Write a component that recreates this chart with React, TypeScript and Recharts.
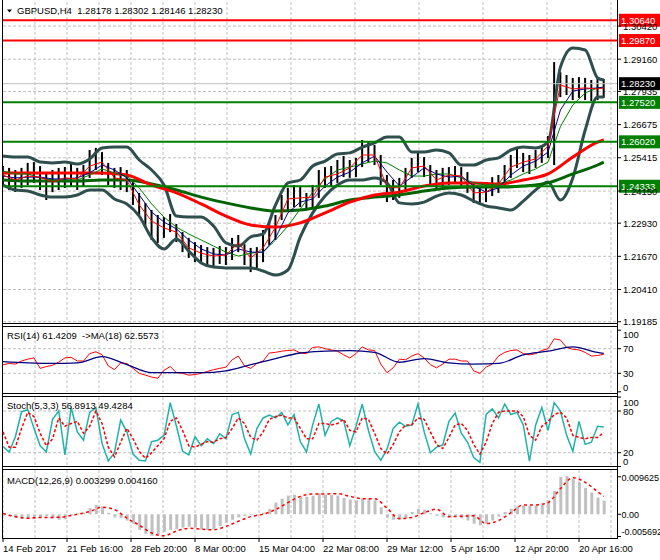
import React from 'react';
import { ComposedChart, Bar, Line, XAxis, YAxis, CartesianGrid, ReferenceLine } from 'recharts';

const FONT = "'Liberation Sans', Arial, Helvetica, sans-serif";
const FS = 9.5;

// ---------- price bars (one sample = 3 H4 bars) ----------
const barHigh = [
  1.2510, 1.2503, 1.2495, 1.2503, 1.2522, 1.2525, 1.2510, 1.2484, 1.2495, 1.2503,
  1.2506, 1.2522, 1.2503, 1.2514, 1.2571, 1.2579, 1.2563, 1.2522, 1.2503, 1.2506,
  1.2495, 1.2457, 1.2408, 1.2370, 1.2343, 1.2324, 1.2316, 1.2328, 1.2290, 1.2259,
  1.2237, 1.2221, 1.2210, 1.2202, 1.2199, 1.2206, 1.2202, 1.2237, 1.2248, 1.2213,
  1.2199, 1.2202, 1.2267, 1.2297, 1.2324, 1.2400, 1.2427, 1.2438, 1.2430, 1.2408,
  1.2438, 1.2495, 1.2506, 1.2510, 1.2533, 1.2548, 1.2533, 1.2541, 1.2609, 1.2601,
  1.2590, 1.2552, 1.2476, 1.2457, 1.2465, 1.2503, 1.2541, 1.2563, 1.2544, 1.2514,
  1.2495, 1.2503, 1.2506, 1.2510, 1.2506, 1.2487, 1.2446, 1.2430, 1.2446, 1.2468,
  1.2476, 1.2514, 1.2552, 1.2579, 1.2560, 1.2552, 1.2571, 1.2590, 1.2624, 1.2905,
  1.2867, 1.2856, 1.2845, 1.2848, 1.2845, 1.2837, 1.2845, 1.2841,
];
const barLow = [
  1.2430, 1.2419, 1.2411, 1.2427, 1.2438, 1.2446, 1.2419, 1.2381, 1.2411, 1.2419,
  1.2427, 1.2434, 1.2419, 1.2434, 1.2465, 1.2495, 1.2476, 1.2438, 1.2427, 1.2419,
  1.2411, 1.2362, 1.2324, 1.2275, 1.2229, 1.2218, 1.2237, 1.2259, 1.2221, 1.2183,
  1.2161, 1.2145, 1.2138, 1.2134, 1.2126, 1.2138, 1.2134, 1.2153, 1.2183, 1.2134,
  1.2107, 1.2115, 1.2145, 1.2210, 1.2229, 1.2305, 1.2343, 1.2354, 1.2354, 1.2343,
  1.2351, 1.2389, 1.2427, 1.2434, 1.2446, 1.2468, 1.2465, 1.2468, 1.2506, 1.2525,
  1.2514, 1.2438, 1.2373, 1.2381, 1.2389, 1.2419, 1.2465, 1.2487, 1.2468, 1.2438,
  1.2419, 1.2427, 1.2438, 1.2442, 1.2434, 1.2408, 1.2370, 1.2362, 1.2373, 1.2396,
  1.2408, 1.2434, 1.2465, 1.2503, 1.2487, 1.2480, 1.2503, 1.2522, 1.2541, 1.2514,
  1.2772, 1.2780, 1.2761, 1.2769, 1.2761, 1.2757, 1.2761, 1.2769,
];

// ---------- moving averages / bands (every 2nd sample, last = final bar) ----------
const maFast = [
  1.2476, 1.2457, 1.2472, 1.2468, 1.2449, 1.2465, 1.2461, 1.2510, 1.2525, 1.2465,
  1.2457, 1.2362, 1.2301, 1.2275, 1.2259, 1.2199, 1.2179, 1.2168, 1.2172, 1.2218,
  1.2161, 1.2199, 1.2278, 1.2385, 1.2389, 1.2392, 1.2468, 1.2480, 1.2503, 1.2552,
  1.2552, 1.2430, 1.2427, 1.2503, 1.2510, 1.2457, 1.2476, 1.2472, 1.2408, 1.2411,
  1.2442, 1.2506, 1.2525, 1.2537, 1.2586, 1.2818, 1.2803, 1.2807, 1.2803, 1.2807,
];
const maMid = [
  1.2472, 1.2465, 1.2468, 1.2468, 1.2461, 1.2461, 1.2465, 1.2484, 1.2514, 1.2495,
  1.2465, 1.2400, 1.2335, 1.2297, 1.2271, 1.2229, 1.2195, 1.2176, 1.2172, 1.2195,
  1.2183, 1.2183, 1.2237, 1.2332, 1.2373, 1.2385, 1.2434, 1.2468, 1.2487, 1.2522,
  1.2548, 1.2487, 1.2434, 1.2468, 1.2503, 1.2480, 1.2468, 1.2472, 1.2434, 1.2411,
  1.2427, 1.2476, 1.2510, 1.2529, 1.2563, 1.2723, 1.2795, 1.2803, 1.2807, 1.2810,
];
const maSlow = [
  1.2491, 1.2480, 1.2480, 1.2465, 1.2457, 1.2457, 1.2457, 1.2476, 1.2499, 1.2484,
  1.2472, 1.2427, 1.2366, 1.2316, 1.2278, 1.2252, 1.2229, 1.2206, 1.2183, 1.2168,
  1.2179, 1.2183, 1.2229, 1.2282, 1.2347, 1.2411, 1.2461, 1.2495, 1.2506, 1.2518,
  1.2529, 1.2522, 1.2495, 1.2472, 1.2472, 1.2480, 1.2480, 1.2465, 1.2446, 1.2438,
  1.2442, 1.2457, 1.2480, 1.2499, 1.2525, 1.2660, 1.2742, 1.2788, 1.2807, 1.2807,
];
const bbUpper = [
  1.2548, 1.2544, 1.2544, 1.2525, 1.2522, 1.2525, 1.2518, 1.2537, 1.2579, 1.2582,
  1.2582, 1.2533, 1.2495, 1.2438, 1.2320, 1.2316, 1.2316, 1.2282, 1.2218, 1.2206,
  1.2241, 1.2252, 1.2362, 1.2446, 1.2457, 1.2510, 1.2529, 1.2556, 1.2560, 1.2582,
  1.2598, 1.2620, 1.2620, 1.2563, 1.2563, 1.2571, 1.2560, 1.2514, 1.2514, 1.2533,
  1.2541, 1.2571, 1.2582, 1.2579, 1.2601, 1.2886, 1.2959, 1.2951, 1.2845, 1.2837,
];
const bbLower = [
  1.2438, 1.2419, 1.2415, 1.2400, 1.2392, 1.2392, 1.2400, 1.2419, 1.2419, 1.2385,
  1.2366, 1.2320, 1.2237, 1.2195, 1.2233, 1.2187, 1.2142, 1.2126, 1.2123, 1.2123,
  1.2123, 1.2111, 1.2096, 1.2115, 1.2241, 1.2332, 1.2396, 1.2438, 1.2457, 1.2457,
  1.2465, 1.2446, 1.2370, 1.2366, 1.2373, 1.2396, 1.2408, 1.2400, 1.2377, 1.2358,
  1.2351, 1.2343, 1.2377, 1.2419, 1.2449, 1.2381, 1.2465, 1.2647, 1.2772, 1.2772,
];
// every 4th sample, last = final bar
const ma100 = [
  1.2484, 1.2484, 1.2484, 1.2484, 1.2484, 1.2476, 1.2438, 1.2408, 1.2366, 1.2320,
  1.2286, 1.2278, 1.2294, 1.2332, 1.2373, 1.2400, 1.2411, 1.2434, 1.2446, 1.2446,
  1.2442, 1.2457, 1.2480, 1.2544, 1.2601, 1.2609,
];
const ma200 = [
  1.2457, 1.2453, 1.2453, 1.2453, 1.2457, 1.2457, 1.2442, 1.2419, 1.2392, 1.2370,
  1.2351, 1.2339, 1.2343, 1.2358, 1.2381, 1.2392, 1.2400, 1.2415, 1.2427, 1.2430,
  1.2430, 1.2434, 1.2446, 1.2480, 1.2514, 1.2525,
];

// ---------- RSI ----------
const rsi = [
  44, 46, 45, 50, 53, 55, 38, 41, 43, 48,
  55, 56, 50, 50, 62, 65, 60, 42, 36, 47,
  46, 38, 30, 27, 24, 22, 35, 41, 31, 30,
  27, 28, 30, 33, 36, 38, 40, 52, 58, 42,
  38, 46, 50, 63, 64, 66, 67, 68, 63, 62,
  72, 73, 70, 68, 66, 60, 55, 62, 73, 68,
  67, 45, 31, 39, 53, 52, 58, 62, 55, 44,
  39, 45, 53, 53, 50, 50, 34, 30, 40, 45,
  58, 64, 67, 68, 62, 60, 62, 67, 70, 86,
  84, 72, 69, 68, 64, 58, 59, 61,
];
const rsiMa = [49, 47, 46, 47, 57, 44, 31, 31, 31, 34, 44, 54, 63, 66, 67, 64, 48, 54, 47, 45, 46, 60, 66, 73, 64, 62.5];

// ---------- Stochastic ----------
const stochMain = [
  29, 21, 43, 79, 82, 55, 30, 21, 68, 80,
  17, 85, 50, 38, 78, 85, 33, 8, 20, 67,
  50, 18, 9, 8, 36, 38, 45, 92, 58, 22,
  17, 43, 30, 40, 33, 47, 40, 75, 78, 40,
  18, 55, 70, 74, 70, 78, 60, 75, 36, 21,
  60, 90, 45, 65, 70, 66, 30, 58, 90, 52,
  22, 9, 25, 55, 64, 58, 60, 90, 50, 20,
  28, 31, 65, 77, 48, 35, 13, 6, 75, 83,
  70, 90, 75, 78, 60, 8, 60, 85, 52, 92,
  80, 45, 22, 65, 32, 35, 58, 57,
];
const stochSignal = [
  50, 28, 28, 55, 78, 72, 48, 30, 40, 70,
  58, 62, 65, 48, 58, 80, 62, 28, 14, 35,
  55, 40, 22, 12, 20, 30, 40, 65, 70, 52,
  30, 28, 32, 36, 35, 40, 42, 55, 70, 62,
  42, 38, 50, 68, 72, 74, 70, 70, 55, 40,
  40, 62, 62, 60, 62, 68, 52, 50, 70, 68,
  48, 26, 18, 32, 50, 60, 60, 70, 68, 50,
  32, 26, 42, 60, 62, 52, 32, 18, 35, 62,
  78, 80, 80, 80, 72, 45, 38, 58, 65, 75,
  78, 70, 45, 42, 40, 42, 42, 49,
];

// ---------- MACD ----------
const macdHist = [
  -0.0003, -0.0006, -0.0009, -0.0011, -0.0012, -0.0012, -0.0008, -0.0005, -0.0010, -0.0014,
  -0.0013, -0.0002, 0.0002, 0.0004, 0.0016, 0.0024, 0.0020, 0.0004, -0.0008, -0.0010,
  -0.0016, -0.0024, -0.0040, -0.0050, -0.0055, -0.0052, -0.0045, -0.0040, -0.0038, -0.0034,
  -0.0032, -0.0034, -0.0038, -0.0040, -0.0038, -0.0030, -0.0022, -0.0014, -0.0008, -0.0004,
  -0.0002, -0.0003, 0.0004, 0.0014, 0.0030, 0.0040, 0.0048, 0.0050, 0.0047, 0.0045,
  0.0048, 0.0054, 0.0050, 0.0050, 0.0048, 0.0042, 0.0038, 0.0036, 0.0040, 0.0040,
  0.0036, 0.0018, -0.0008, -0.0014, -0.0014, -0.0010, 0.0006, 0.0014, 0.0012, 0.0003,
  -0.0004, -0.0008, -0.0006, -0.0004, -0.0010, -0.0016, -0.0024, -0.0028, -0.0024, -0.0016,
  -0.0006, 0.0006, 0.0014, 0.0020, 0.0022, 0.0022, 0.0022, 0.0024, 0.0036, 0.0060,
  0.0096, 0.0098, 0.0090, 0.0082, 0.0068, 0.0056, 0.0043, 0.0035,
];
const macdSignal = [
  0.0002, -0.0006, -0.0010, -0.0008, -0.0008, -0.0006, 0.0000, 0.0007, 0.0018, 0.0012,
  -0.0010, -0.0028, -0.0048, -0.0055, -0.0043, -0.0036, -0.0038, -0.0040, -0.0031, -0.0018,
  -0.0006, 0.0000, 0.0012, 0.0030, 0.0046, 0.0052, 0.0052, 0.0053, 0.0046, 0.0040,
  0.0040, 0.0016, -0.0011, -0.0008, 0.0004, 0.0013, -0.0006, -0.0005, -0.0004, -0.0024,
  -0.0016, 0.0004, 0.0024, 0.0024, 0.0030, 0.0066, 0.0094, 0.0082, 0.0058, 0.0046,
];

// ---------- axes, labels, levels ----------
const priceTicks = [1.3042, 1.2916, 1.27935, 1.26675, 1.25415, 1.2415, 1.2293, 1.2167, 1.2041, 1.19185];
const rsiTicks = [0, 30, 70, 100];
const stochTicks = [0, 20, 80, 100];
const macdTicks = [0.009625, 0, -0.005692];
const macdTickText = ['0.009625', '0.00', '-0.005692'];
const timeLabels = ['14 Feb 2017', '21 Feb 16:00', '28 Feb 20:00', '8 Mar 00:00', '15 Mar 04:00', '22 Mar 08:00', '29 Mar 12:00', '5 Apr 16:00', '12 Apr 20:00', '20 Apr 16:00'];
const labelBars = [0, 31, 62, 93, 124, 155, 186, 217, 248, 279];
const gridBars = Array.from({ length: 20 }, (_, j) => j * 15.5);
const levelValues = [1.3064, 1.2987, 1.2823, 1.2752, 1.2602, 1.24333];
const levelText = ['1.30640', '1.29870', '1.28230', '1.27520', '1.26020', '1.24333'];
const levelColors = ['#FF0000', '#FF0000', '#C0C0C0', '#008000', '#008000', '#008000'];
const levelBoxes = ['#FF0000', '#FF0000', '#000000', '#008000', '#008000', '#008000'];
const headerText = 'GBPUSD,H4  1.28178 1.28302 1.28146 1.28230';
const rsiTitle = 'RSI(14) 61.4209  ->MA(18) 62.5573';
const stochTitle = 'Stoch(5,3,3) 56.8913 49.4284';
const macdTitle = 'MACD(12,26,9) 0.003299 0.004160';

const BARS_PER_SAMPLE = 3;
const X_MAX = 297.4;
const LAST = barHigh.length - 1;
const pick = (arr: number[], step: number, k: number): number | null => {
  if (k === LAST) return arr[arr.length - 1];
  return k % step === 0 ? arr[k / step] : null;
};

const rows = barHigh.map((h, k) => ({
  bar: k * BARS_PER_SAMPLE,
  range: [barLow[k], h],
  fast: pick(maFast, 2, k),
  mid: pick(maMid, 2, k),
  slow: pick(maSlow, 2, k),
  bbU: pick(bbUpper, 2, k),
  bbL: pick(bbLower, 2, k),
  m100: pick(ma100, 4, k),
  m200: pick(ma200, 4, k),
  rsi: rsi[k],
  rsiMa: pick(rsiMa, 4, k),
  st: stochMain[k],
  sig: stochSignal[k],
  hist: macdHist[k],
  msig: pick(macdSignal, 2, k),
}));

const txt = { fontSize: FS, fontFamily: FONT, fill: '#000' } as const;

const makeTick = (fmt: (v: number) => string, shift: (v: number) => number = () => 0, size = FS) => (p: any) => (
  <text x={p.x} y={p.y} dy={3.5 + shift(p.payload.value)} textAnchor="start" fontSize={size} fontFamily={FONT} fill="#000">
    {fmt(p.payload.value)}
  </text>
);
const priceTick = makeTick((v) => v.toFixed(5));
const rsiTick = makeTick((v) => String(v), (v) => (v === 100 ? 4 : v === 0 ? -4 : 0));
const stochTick = makeTick((v) => String(v), (v) => (v === 100 ? 5 : v === 0 ? -5.5 : 0));
const macdTick = makeTick((v) => macdTickText[macdTicks.indexOf(v)] ?? '', (v) => (v < 0 ? -4.5 : 0.5), 9);

const timeTick = (p: any) => {
  const idx = labelBars.indexOf(p.payload.value);
  if (idx < 0) return <g />;
  return (
    <g>
      <line x1={p.x} x2={p.x} y1={p.y} y2={p.y + 4} stroke="#000" />
      <text x={p.x} y={p.y + 13.5} textAnchor="start" {...txt}>{timeLabels[idx]}</text>
    </g>
  );
};

const levelLabel = (text: string, bg: string) => (props: any) => {
  const vb = props.viewBox || {};
  const x = (vb.x ?? 0) + (vb.width ?? 0) + 2;
  const y = vb.y ?? 0;
  return (
    <g>
      <rect x={x} y={y - 6.5} width={42} height={13} fill={bg} />
      <text x={x + 2} y={y + 3.5} fontSize={FS} fontFamily={FONT} fill="#fff">{text}</text>
    </g>
  );
};

const gridProps = { stroke: '#C0C0C0', strokeDasharray: '3 2', verticalValues: gridBars } as any;
const hiddenX = (
  <XAxis dataKey="bar" type="number" domain={[0, X_MAX]} ticks={gridBars} hide allowDataOverflow />
);
const W = 660;

export default function App() {
  return (
    <div style={{ position: 'absolute', left: 0, top: 0, width: W, height: 560, background: '#fff', overflow: 'hidden' }}>
      {/* main price panel */}
      <div style={{ position: 'absolute', left: 0, top: 0 }}>
        <ComposedChart width={W} height={326} data={rows} margin={{ top: 2, right: 0, bottom: 2, left: 3 }}>
          <CartesianGrid {...gridProps} horizontalValues={priceTicks} />
          {hiddenX}
          <YAxis orientation="right" width={43} domain={[1.19098, 1.31334]} ticks={priceTicks} interval={0}
            tick={priceTick} tickSize={4} tickMargin={2} axisLine={false} tickLine={{ stroke: '#000' }} allowDataOverflow />
          <Bar dataKey="range" fill="#000" barSize={2} isAnimationActive={false} />
          <Line dataKey="bbU" stroke="#2F4F4F" strokeWidth={3} dot={false} connectNulls type="monotone" isAnimationActive={false} />
          <Line dataKey="bbL" stroke="#2F4F4F" strokeWidth={3} dot={false} connectNulls type="monotone" isAnimationActive={false} />
          <Line dataKey="m200" stroke="#006400" strokeWidth={3} dot={false} connectNulls type="monotone" isAnimationActive={false} />
          <Line dataKey="m100" stroke="#FF0000" strokeWidth={3} dot={false} connectNulls type="monotone" isAnimationActive={false} />
          <Line dataKey="slow" stroke="#008000" strokeWidth={1} dot={false} connectNulls type="linear" isAnimationActive={false} />
          <Line dataKey="mid" stroke="#00008B" strokeWidth={1} dot={false} connectNulls type="linear" isAnimationActive={false} />
          <Line dataKey="fast" stroke="#FF0000" strokeWidth={1} dot={false} connectNulls type="linear" isAnimationActive={false} />
          {levelValues.map((v, i) => (
            <ReferenceLine key={v} y={v} stroke={levelColors[i]} strokeWidth={levelColors[i] === '#C0C0C0' ? 1 : 2}
              label={levelLabel(levelText[i], levelBoxes[i])} />
          ))}
        </ComposedChart>
      </div>

      {/* RSI panel */}
      <div style={{ position: 'absolute', left: 0, top: 326 }}>
        <ComposedChart width={W} height={68} data={rows} margin={{ top: 4.2, right: 0, bottom: 2.2, left: 3 }}>
          <CartesianGrid {...gridProps} horizontalValues={[30, 70]} />
          {hiddenX}
          <YAxis orientation="right" width={43} domain={[0, 100]} ticks={rsiTicks} interval={0}
            tick={rsiTick} tickSize={4} tickMargin={2} axisLine={false} tickLine={{ stroke: '#000' }} allowDataOverflow />
          <Line dataKey="rsi" stroke="#FF0000" strokeWidth={1} dot={false} type="linear" isAnimationActive={false} />
          <Line dataKey="rsiMa" stroke="#000080" strokeWidth={1.3} dot={false} connectNulls type="monotone" isAnimationActive={false} />
        </ComposedChart>
      </div>

      {/* Stochastic panel */}
      <div style={{ position: 'absolute', left: 0, top: 396 }}>
        <ComposedChart width={W} height={71} data={rows} margin={{ top: 1.1, right: 0, bottom: 0.4, left: 3 }}>
          <CartesianGrid {...gridProps} horizontalValues={[20, 80]} />
          {hiddenX}
          <YAxis orientation="right" width={43} domain={[0, 100]} ticks={stochTicks} interval={0}
            tick={stochTick} tickSize={4} tickMargin={2} axisLine={false} tickLine={{ stroke: '#000' }} allowDataOverflow />
          <Line dataKey="st" stroke="#20B2AA" strokeWidth={1.5} dot={false} type="linear" isAnimationActive={false} />
          <Line dataKey="sig" stroke="#FF0000" strokeWidth={1.5} strokeDasharray="3 2" dot={false} type="linear" isAnimationActive={false} />
        </ComposedChart>
      </div>

      {/* MACD panel */}
      <div style={{ position: 'absolute', left: 0, top: 470 }}>
        <ComposedChart width={W} height={90} data={rows} margin={{ top: 0, right: 0, bottom: 0, left: 3 }}>
          <CartesianGrid {...gridProps} horizontal={false} />
          <XAxis dataKey="bar" type="number" domain={[0, X_MAX]} ticks={gridBars} interval={0} tick={timeTick}
            tickLine={false} axisLine={false} height={22} tickSize={0} tickMargin={0} allowDataOverflow />
          <YAxis orientation="right" width={43} domain={[-0.00608, 0.01136]} ticks={macdTicks} interval={0}
            tick={macdTick} tickSize={4} tickMargin={0.5} axisLine={false} tickLine={{ stroke: '#000' }} allowDataOverflow />
          <Bar dataKey="hist" fill="#C0C0C0" barSize={3} isAnimationActive={false} />
          <Line dataKey="msig" stroke="#FF0000" strokeWidth={1.5} strokeDasharray="3 3" dot={false} connectNulls type="monotone" isAnimationActive={false} />
        </ComposedChart>
      </div>

      {/* frames and panel titles */}
      <svg width={W} height={560} style={{ position: 'absolute', left: 0, top: 0, pointerEvents: 'none' }}>
        <line x1={2.5} y1={0} x2={2.5} y2={539} stroke="#000" />
        <line x1={617.5} y1={0} x2={617.5} y2={539} stroke="#000" />
        {[323.5, 326.5, 393.5, 396.5, 466.5, 469.5, 538.5].map((y) => (
          <line key={y} x1={2} x2={618} y1={y} y2={y} stroke="#000" />
        ))}
        <polygon points="7,9.5 12,9.5 9.5,12.5" fill="#000" />
        <text x={17} y={14} style={{ whiteSpace: 'pre' }} {...txt}>{headerText}</text>
        <text x={7} y={338.5} style={{ whiteSpace: 'pre' }} {...txt}>{rsiTitle}</text>
        <text x={7} y={408.5} style={{ whiteSpace: 'pre' }} {...txt}>{stochTitle}</text>
        <text x={7} y={483.5} style={{ whiteSpace: 'pre' }} {...txt}>{macdTitle}</text>
      </svg>
    </div>
  );
}
